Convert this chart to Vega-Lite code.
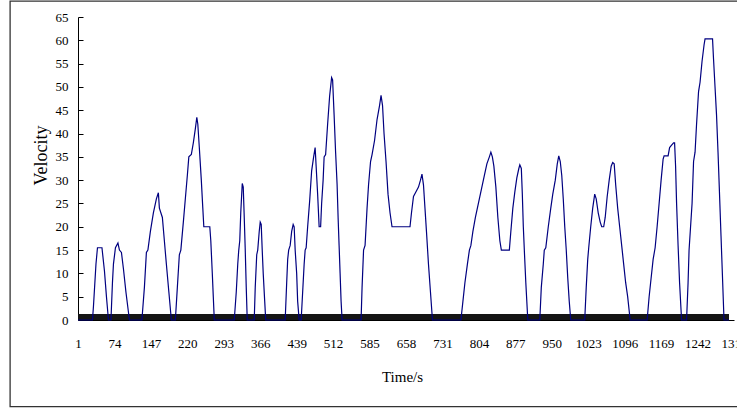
{
  "$schema": "https://vega.github.io/schema/vega-lite/v6.json",
  "width": 656,
  "height": 303,
  "autosize": {"type": "none"},
  "padding": {"left": 78, "top": 17, "right": 3, "bottom": 90},
  "background": "white",
  "config": {
    "view": {"stroke": null},
    "font": "Liberation Serif",
    "axis": {
      "grid": false,
      "domainColor": "#000000",
      "tickColor": "#000000",
      "labelColor": "#000000",
      "titleColor": "#000000",
      "labelFont": "Liberation Serif",
      "titleFont": "Liberation Serif",
      "titleFontWeight": "normal",
      "labelFontSize": 13
    }
  },
  "datasets": {
    "cycle": [
      {"t": 1, "v": 0}, {"t": 30, "v": 0},
      {"t": 32, "v": 3}, {"t": 37, "v": 12}, {"t": 40, "v": 15.5}, {"t": 49, "v": 15.5}, {"t": 54, "v": 10.5}, {"t": 58, "v": 5}, {"t": 62, "v": 0},
      {"t": 67, "v": 0}, {"t": 70, "v": 8}, {"t": 72, "v": 12}, {"t": 76, "v": 15.5}, {"t": 81, "v": 16.5}, {"t": 84, "v": 15}, {"t": 88, "v": 14.5}, {"t": 92, "v": 11}, {"t": 97, "v": 6}, {"t": 104, "v": 0},
      {"t": 129, "v": 0}, {"t": 134, "v": 7}, {"t": 138, "v": 14.5}, {"t": 141, "v": 15}, {"t": 146, "v": 19}, {"t": 152, "v": 23}, {"t": 158, "v": 26}, {"t": 162, "v": 27.3}, {"t": 164, "v": 24}, {"t": 170, "v": 22}, {"t": 174, "v": 17}, {"t": 178, "v": 12}, {"t": 183, "v": 6}, {"t": 188, "v": 0},
      {"t": 196, "v": 0}, {"t": 200, "v": 7}, {"t": 204, "v": 14}, {"t": 207, "v": 15}, {"t": 212, "v": 21}, {"t": 216, "v": 26}, {"t": 220, "v": 31}, {"t": 223, "v": 35}, {"t": 228, "v": 35.5}, {"t": 232, "v": 38}, {"t": 236, "v": 41}, {"t": 239, "v": 43.5}, {"t": 241, "v": 42}, {"t": 244, "v": 37}, {"t": 248, "v": 30}, {"t": 251, "v": 24}, {"t": 253, "v": 20}, {"t": 265, "v": 20}, {"t": 267, "v": 17}, {"t": 270, "v": 10}, {"t": 272, "v": 5}, {"t": 274, "v": 0},
      {"t": 314, "v": 0}, {"t": 318, "v": 6}, {"t": 321, "v": 12}, {"t": 323, "v": 15}, {"t": 325, "v": 17}, {"t": 327, "v": 23}, {"t": 330, "v": 29.3}, {"t": 332, "v": 28.5}, {"t": 334, "v": 22}, {"t": 336, "v": 15}, {"t": 338, "v": 7}, {"t": 340, "v": 0},
      {"t": 354, "v": 0}, {"t": 356, "v": 7}, {"t": 359, "v": 14}, {"t": 361, "v": 15}, {"t": 364, "v": 19}, {"t": 366, "v": 21}, {"t": 368, "v": 20.5}, {"t": 370, "v": 15}, {"t": 372, "v": 10}, {"t": 375, "v": 4}, {"t": 377, "v": 0},
      {"t": 416, "v": 0}, {"t": 419, "v": 8}, {"t": 421, "v": 13}, {"t": 423, "v": 15}, {"t": 426, "v": 16}, {"t": 429, "v": 19}, {"t": 432, "v": 20.5}, {"t": 434, "v": 20}, {"t": 436, "v": 15}, {"t": 439, "v": 10}, {"t": 441, "v": 4}, {"t": 444, "v": 0},
      {"t": 448, "v": 0}, {"t": 451, "v": 6}, {"t": 454, "v": 12}, {"t": 456, "v": 15}, {"t": 458, "v": 15.5}, {"t": 461, "v": 20}, {"t": 465, "v": 25.5}, {"t": 469, "v": 32}, {"t": 473, "v": 35}, {"t": 476, "v": 37}, {"t": 478, "v": 33}, {"t": 481, "v": 27}, {"t": 484, "v": 20}, {"t": 487, "v": 20}, {"t": 489, "v": 25}, {"t": 492, "v": 30}, {"t": 494, "v": 35}, {"t": 497, "v": 35.5}, {"t": 501, "v": 42}, {"t": 505, "v": 48}, {"t": 509, "v": 52}, {"t": 511, "v": 51.5}, {"t": 514, "v": 44}, {"t": 517, "v": 36}, {"t": 520, "v": 29}, {"t": 522, "v": 22}, {"t": 524, "v": 16}, {"t": 526, "v": 10}, {"t": 528, "v": 4}, {"t": 530, "v": 0},
      {"t": 568, "v": 0}, {"t": 570, "v": 7}, {"t": 573, "v": 15}, {"t": 576, "v": 16}, {"t": 580, "v": 24}, {"t": 583, "v": 29}, {"t": 587, "v": 34}, {"t": 590, "v": 35.5}, {"t": 595, "v": 38.5}, {"t": 600, "v": 43}, {"t": 605, "v": 46}, {"t": 608, "v": 48.2}, {"t": 611, "v": 46}, {"t": 614, "v": 40}, {"t": 618, "v": 34}, {"t": 622, "v": 27}, {"t": 626, "v": 23}, {"t": 630, "v": 20}, {"t": 666, "v": 20}, {"t": 669, "v": 23}, {"t": 673, "v": 26.5}, {"t": 678, "v": 27.5}, {"t": 683, "v": 28.5}, {"t": 687, "v": 30}, {"t": 690, "v": 31.3}, {"t": 693, "v": 29}, {"t": 696, "v": 24}, {"t": 699, "v": 19}, {"t": 703, "v": 12}, {"t": 707, "v": 6}, {"t": 711, "v": 0},
      {"t": 768, "v": 0}, {"t": 772, "v": 4}, {"t": 776, "v": 8}, {"t": 781, "v": 12}, {"t": 785, "v": 15}, {"t": 788, "v": 16}, {"t": 792, "v": 19}, {"t": 797, "v": 22}, {"t": 803, "v": 25}, {"t": 809, "v": 28}, {"t": 815, "v": 31}, {"t": 820, "v": 33.5}, {"t": 825, "v": 35}, {"t": 828, "v": 36}, {"t": 831, "v": 35}, {"t": 834, "v": 33}, {"t": 838, "v": 28.5}, {"t": 842, "v": 22}, {"t": 846, "v": 17}, {"t": 849, "v": 15}, {"t": 865, "v": 15}, {"t": 868, "v": 19}, {"t": 872, "v": 24}, {"t": 876, "v": 27.5}, {"t": 880, "v": 30.5}, {"t": 884, "v": 32.5}, {"t": 886, "v": 33.3}, {"t": 889, "v": 32.5}, {"t": 891, "v": 27}, {"t": 893, "v": 20}, {"t": 895, "v": 15}, {"t": 898, "v": 8}, {"t": 902, "v": 0},
      {"t": 926, "v": 0}, {"t": 929, "v": 7}, {"t": 933, "v": 12}, {"t": 935, "v": 15}, {"t": 938, "v": 15.5}, {"t": 943, "v": 20}, {"t": 948, "v": 24}, {"t": 952, "v": 27}, {"t": 957, "v": 30}, {"t": 961, "v": 33.5}, {"t": 964, "v": 35.2}, {"t": 967, "v": 34}, {"t": 970, "v": 31}, {"t": 973, "v": 26}, {"t": 976, "v": 20}, {"t": 979, "v": 15}, {"t": 982, "v": 9}, {"t": 985, "v": 4}, {"t": 988, "v": 0},
      {"t": 1016, "v": 0}, {"t": 1019, "v": 7}, {"t": 1022, "v": 13}, {"t": 1024, "v": 15.5}, {"t": 1028, "v": 20}, {"t": 1032, "v": 24}, {"t": 1036, "v": 27}, {"t": 1039, "v": 26}, {"t": 1043, "v": 23}, {"t": 1047, "v": 21}, {"t": 1050, "v": 20}, {"t": 1054, "v": 20}, {"t": 1057, "v": 22}, {"t": 1061, "v": 26.5}, {"t": 1065, "v": 30}, {"t": 1069, "v": 33}, {"t": 1072, "v": 33.8}, {"t": 1075, "v": 33.5}, {"t": 1078, "v": 29}, {"t": 1082, "v": 24}, {"t": 1086, "v": 20}, {"t": 1090, "v": 16}, {"t": 1094, "v": 12}, {"t": 1098, "v": 8}, {"t": 1102, "v": 5}, {"t": 1107, "v": 0},
      {"t": 1141, "v": 0}, {"t": 1145, "v": 5}, {"t": 1149, "v": 9}, {"t": 1153, "v": 13}, {"t": 1157, "v": 15.5}, {"t": 1161, "v": 20}, {"t": 1165, "v": 25}, {"t": 1169, "v": 30}, {"t": 1173, "v": 34.5}, {"t": 1175, "v": 35.2}, {"t": 1183, "v": 35.2}, {"t": 1186, "v": 37}, {"t": 1190, "v": 37.5}, {"t": 1194, "v": 38}, {"t": 1196, "v": 38}, {"t": 1198, "v": 33}, {"t": 1200, "v": 25}, {"t": 1203, "v": 16}, {"t": 1206, "v": 8}, {"t": 1210, "v": 0},
      {"t": 1220, "v": 0}, {"t": 1223, "v": 8}, {"t": 1225, "v": 15}, {"t": 1228, "v": 20}, {"t": 1231, "v": 25}, {"t": 1234, "v": 34}, {"t": 1237, "v": 36}, {"t": 1240, "v": 42}, {"t": 1244, "v": 49}, {"t": 1247, "v": 51}, {"t": 1251, "v": 55.5}, {"t": 1255, "v": 59}, {"t": 1257, "v": 60.3}, {"t": 1272, "v": 60.3}, {"t": 1274, "v": 56}, {"t": 1277, "v": 50}, {"t": 1280, "v": 44}, {"t": 1283, "v": 36}, {"t": 1286, "v": 27}, {"t": 1289, "v": 18}, {"t": 1292, "v": 9}, {"t": 1295, "v": 0},
      {"t": 1305, "v": 0}
    ]
  },
  "layer": [
    {
      "data": {"values": [{}]},
      "mark": {"type": "rect", "fill": "transparent", "stroke": "#333333", "strokeWidth": 1.3, "clip": false},
      "encoding": {
        "x": {
          "datum": -135,
          "type": "quantitative",
          "scale": {"domain": [1, 1315], "nice": false, "zero": false},
          "axis": {
            "values": [1, 74, 147, 220, 293, 366, 439, 512, 585, 658, 731, 804, 877, 950, 1023, 1096, 1169, 1242, 1315],
            "tickCount": 200,
            "format": "d",
            "labelFont": "Liberation Serif",
            "labelFontSize": 13,
            "ticks": false,
            "tickSize": 0,
            "labelPadding": 17,
            "labelFlush": false,
            "labelOverlap": false,
            "title": "Time/s",
            "titleFont": "Liberation Serif",
            "titleFontSize": 15,
            "titleX": 324,
            "titleY": 49,
            "titleBaseline": "top",
            "titleAlign": "center"
          }
        },
        "x2": {"datum": 1345},
        "y": {
          "datum": 68.4,
          "type": "quantitative",
          "scale": {"domain": [0, 65], "nice": false, "zero": false},
          "axis": {
            "values": [0, 5, 10, 15, 20, 25, 30, 35, 40, 45, 50, 55, 60, 65],
            "tickCount": 200,
            "format": "d",
            "labelFont": "Liberation Serif",
            "labelFontSize": 13,
            "labelOverlap": false,
            "tickSize": -5,
            "labelPadding": 15,
            "title": "Velocity",
            "titleFont": "Liberation Serif",
            "titleFontSize": 18,
            "titleX": -28,
            "titleY": 138,
            "titleAngle": -90,
            "titleBaseline": "bottom",
            "titleAlign": "center"
          }
        },
        "y2": {"datum": -18.6}
      }
    },
    {
      "data": {"values": [{}]},
      "mark": {"type": "rule", "color": "#151515", "strokeWidth": 6, "yOffset": -3},
      "encoding": {
        "x": {"datum": 1, "type": "quantitative"},
        "x2": {"datum": 1305},
        "y": {"datum": 0, "type": "quantitative"}
      }
    },
    {
      "data": {"name": "cycle"},
      "mark": {"type": "line", "color": "#000080", "strokeWidth": 1.2, "interpolate": "linear"},
      "encoding": {
        "x": {"field": "t", "type": "quantitative"},
        "y": {"field": "v", "type": "quantitative"}
      }
    }
  ]
}
